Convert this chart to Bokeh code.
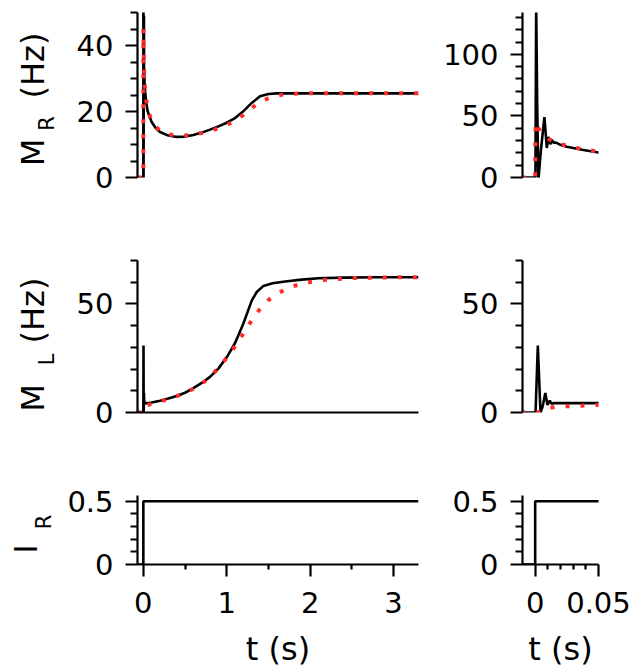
from bokeh.plotting import figure
from bokeh.layouts import column, row
from bokeh.models import FixedTicker, NumeralTickFormatter, Range1d
from bokeh.embed import file_html
from bokeh.resources import INLINE

# ---------------- data ----------------
# M_R, black solid trace
mr_sim_t = [-0.07, 0.0, 0.0002, 0.0008, 0.0016, 0.0025, 0.0045, 0.0073, 0.0092, 0.0105,
            0.012, 0.0132, 0.0148, 0.0165, 0.02, 0.025, 0.03, 0.037, 0.044, 0.05, 0.07,
            0.1, 0.15, 0.2, 0.3, 0.4, 0.5, 0.6, 0.7, 0.8, 0.9, 1.0, 1.1, 1.2, 1.3, 1.4,
            1.5, 1.6, 1.8, 2.2, 2.6, 3.0, 3.3]
mr_sim = [0, 0, 0, 140, 60, -3, 22, 49, 24, 33,
          27, 30.5, 28, 28.4, 26.5, 25.0, 23.9, 22.5, 21.3, 20.3, 18.7,
          16.8, 14.9, 13.8, 12.7, 12.3, 12.4, 12.9, 13.6, 14.5, 15.5, 16.6, 18.0, 20.1, 22.6, 24.6,
          25.3, 25.5, 25.5, 25.5, 25.5, 25.5, 25.5]
# M_R, red dotted trace
mr_th_t = [-0.07, 0.0, 0.0003, 0.002, 0.0045, 0.0073, 0.011, 0.0165, 0.022, 0.028, 0.034,
           0.04, 0.05, 0.07, 0.1, 0.15, 0.2, 0.3, 0.4, 0.5, 0.6, 0.7, 0.8, 0.9, 1.0, 1.1,
           1.2, 1.3, 1.4, 1.5, 1.6, 1.7, 1.8, 2.0, 2.5, 3.3]
mr_th = [0, 0, 45, 41, 37, 34.3, 31, 28.4, 26.6, 25.0, 23.7,
         22.5, 21.0, 19.3, 17.3, 15.3, 14.2, 13.1, 12.7, 12.7, 13.0, 13.5, 14.1, 14.9, 15.9, 17.2,
         19.0, 21.1, 22.8, 24.0, 24.8, 25.2, 25.4, 25.5, 25.5, 25.5]
# M_L, black solid trace
ml_sim_t = [-0.07, 0.0, 0.0003, 0.0021, 0.0042, 0.006, 0.008, 0.0097, 0.0115, 0.013, 0.015,
            0.03, 0.05, 0.1, 0.2, 0.3, 0.4, 0.5, 0.6, 0.7, 0.8, 0.9, 1.0, 1.1, 1.2, 1.3,
            1.36, 1.44, 1.55, 1.7, 1.9, 2.1, 2.4, 2.8, 3.3]
ml_sim = [0, 0, 0, 30.8, 0, 3, 9, 3.5, 5.5, 4.0, 4.4,
          4.3, 4.3, 4.6, 5.4, 6.4, 7.6, 9.1, 11.2, 13.6, 16.4, 20.2, 25.4, 32, 41, 51.5,
          55.5, 58.3, 59.5, 60.3, 61.2, 61.8, 62.1, 62.3, 62.3]
# M_L, red dotted trace
ml_th_t = [-0.07, 0.0, 0.003, 0.006, 0.0113, 0.023, 0.035, 0.047, 0.1, 0.2, 0.3, 0.4, 0.5,
           0.6, 0.7, 0.8, 0.9, 1.0, 1.1, 1.2, 1.3, 1.4, 1.5, 1.6, 1.7, 1.8, 1.9, 2.0, 2.2,
           2.5, 2.9, 3.3]
ml_th = [0, 0, 0.2, 1.0, 2.3, 2.8, 3.1, 3.4, 4.0, 5.1, 6.2, 7.5, 9.0,
         10.9, 13.3, 16.3, 20.6, 25.2, 30.5, 36.5, 42.5, 47.7, 51.8, 54.6, 56.6, 58.2, 59.3, 60.1, 61.2,
         61.9, 62.2, 62.3]
# I_R input step
ir_t = [-0.07, 0.0, 0.0, 3.3]
ir = [0, 0, 0.5, 0.5]

# ticks
x_long_major = [0, 1, 2, 3]
x_long_minor = [0.5, 1.5, 2.5]
x_short_major = [0, 0.05]
x_short_minor = [0.01, 0.02, 0.03, 0.04]
mr_long_major = [0, 20, 40]
mr_long_minor = [5, 10, 15, 25, 30, 35, 45, 50]
mr_short_major = [0, 50, 100]
mr_short_minor = [10, 20, 30, 40, 60, 70, 80, 90, 110, 120, 130]
ml_major = [0, 50]
ml_minor = [10, 20, 30, 40, 60, 70]
ir_major = [0, 0.5]
ir_minor = [0.1, 0.2, 0.3, 0.4]

# y-axis label pieces (main text, subscript)
mr_label = ["M", "R", "(Hz)"]
ml_label = ["M", "L", "(Hz)"]
ir_label = ["I", "R"]

BLACK = "#000000"
RED = "#ff2a2a"
FONT = "DejaVu Sans"
LINE_W = 2.6
AXIS_W = 2.2

LEFT_X = (-0.07, 3.3)
RIGHT_X = (-0.01, 0.05)


def make_fig(xr, yr, fw, fh, bl, br, bt, bb, xaxis):
    p = figure(x_range=Range1d(*xr), y_range=Range1d(*yr),
               width=bl + fw + br, height=bt + fh + bb,
               frame_width=fw, frame_height=fh,
               min_border_left=bl, min_border_right=br,
               min_border_top=bt, min_border_bottom=bb,
               output_backend="svg", toolbar_location=None,
               x_axis_location="below" if xaxis else None)
    p.outline_line_color = None
    p.grid.visible = False
    p.background_fill_color = "white"
    p.border_fill_color = "white"
    return p


LABW = 60      # width of the label strip
AX_X = 58      # x of the (invisible) axis line inside the strip


def piece_fig(text, size, h, top, fh, standoff):
    """Blank strip whose invisible y-axis carries one piece of the rotated y label.
    The piece is centred on the strip's frame (top .. top+fh)."""
    p = figure(x_range=Range1d(0, 1), y_range=Range1d(0, 1),
               width=LABW, height=h, frame_width=LABW - AX_X, frame_height=fh,
               min_border_left=AX_X, min_border_right=0,
               min_border_top=top, min_border_bottom=h - top - fh,
               output_backend="svg", toolbar_location=None, x_axis_location=None)
    p.outline_line_color = None
    p.grid.visible = False
    p.background_fill_color = "white"
    p.border_fill_color = "white"
    ax = p.yaxis[0]
    ax.ticker = FixedTicker(ticks=[], minor_ticks=[])
    ax.axis_line_color = None
    ax.major_tick_line_color = None
    ax.minor_tick_line_color = None
    ax.major_tick_out = 0
    ax.minor_tick_out = 0
    ax.major_tick_in = 0
    ax.minor_tick_in = 0
    ax.axis_label = text
    ax.axis_label_text_font = FONT
    ax.axis_label_text_font_size = size
    ax.axis_label_text_font_style = "normal"
    ax.axis_label_text_color = BLACK
    ax.axis_label_standoff = standoff
    return p


def style_axis(ax, major, minor, minor_out):
    ax.ticker = FixedTicker(ticks=major, minor_ticks=minor)
    ax.formatter = NumeralTickFormatter(format="0.[00]")
    ax.axis_line_color = BLACK
    ax.axis_line_width = AXIS_W
    ax.major_tick_line_color = BLACK
    ax.minor_tick_line_color = BLACK
    ax.major_tick_line_width = AXIS_W
    ax.minor_tick_line_width = AXIS_W
    ax.major_tick_in = 0
    ax.major_tick_out = 12
    ax.minor_tick_in = 0
    ax.minor_tick_out = minor_out
    ax.major_label_text_font = FONT
    ax.major_label_text_font_size = "29px"
    ax.major_label_text_color = BLACK
    ax.major_label_standoff = 12


def add_traces(p, pairs):
    for t, v, col, w, dash in pairs:
        p.line(t, v, line_color=col, line_width=w, line_dash=dash)


# column geometry
LW, LBL, LBR = 281, 137 - LABW, 10
RW, RBL, RBR = 76, 94, 37

# ---- row 1 : M_R  (row height 217) ----
p1 = make_fig(LEFT_X, (0, 50), LW, 165, LBL, LBR, 12, 40, False)
p2 = make_fig(RIGHT_X, (0, 134), RW, 165, RBL, RBR, 12, 40, False)
for p, (maj, mnr) in ((p1, (mr_long_major, mr_long_minor)), (p2, (mr_short_major, mr_short_minor))):
    style_axis(p.yaxis[0], maj, mnr, 7)
    add_traces(p, [(mr_sim_t, mr_sim, BLACK, LINE_W, "solid"), (mr_th_t, mr_th, RED, 4, "4 11")])
lab1 = column(piece_fig(mr_label[2], "32px", 108, 30, 70, 7),
              piece_fig(mr_label[1], "21px", 26, 4, 22, 0),
              piece_fig(mr_label[0], "32px", 83, 3, 30, 7))

# ---- row 2 : M_L  (row height 235) ----
p3 = make_fig(LEFT_X, (0, 70), LW, 152, LBL, LBR, 43, 40, True)
p4 = make_fig(RIGHT_X, (0, 70), RW, 152, RBL, RBR, 43, 40, False)
for p in (p3, p4):
    style_axis(p.yaxis[0], ml_major, ml_minor, 7)
    add_traces(p, [(ml_sim_t, ml_sim, BLACK, LINE_W, "solid"), (ml_th_t, ml_th, RED, 4, "4 11")])
xa = p3.xaxis[0]
style_axis(xa, [], [], 0)
xa.major_tick_out = 0
lab2 = column(piece_fig(ml_label[2], "32px", 136, 56, 74, 7),
              piece_fig(ml_label[1], "21px", 24, 2, 8, 0),
              piece_fig(ml_label[0], "32px", 75, 5, 31, 7))

# ---- row 3 : I_R  (row height 218) ----
p5 = make_fig(LEFT_X, (0, 0.545), LW, 69, LBL, LBR, 43, 106, True)
p6 = make_fig(RIGHT_X, (0, 0.545), RW, 69, RBL, RBR, 43, 106, True)
for p, (maj, mnr) in ((p5, (x_long_major, x_long_minor)), (p6, (x_short_major, x_short_minor))):
    style_axis(p.yaxis[0], ir_major, ir_minor, 7)
    style_axis(p.xaxis[0], maj, mnr, 5)
    p.xaxis[0].major_label_standoff = 15
    p.xaxis[0].axis_label = "t (s)"
    p.xaxis[0].axis_label_text_font = FONT
    p.xaxis[0].axis_label_text_font_size = "32px"
    p.xaxis[0].axis_label_text_font_style = "normal"
    p.xaxis[0].axis_label_text_color = BLACK
    p.xaxis[0].axis_label_standoff = 14
    add_traces(p, [(ir_t, ir, BLACK, LINE_W, "solid")])
lab3 = column(piece_fig(ir_label[1], "21px", 85, 55, 29, 3),
              piece_fig(ir_label[0], "32px", 133, 1, 21, 14))

layout = column(row(lab1, p1, p2), row(lab2, p3, p4), row(lab3, p5, p6))
open("out.html", "w").write(file_html(layout, INLINE))
